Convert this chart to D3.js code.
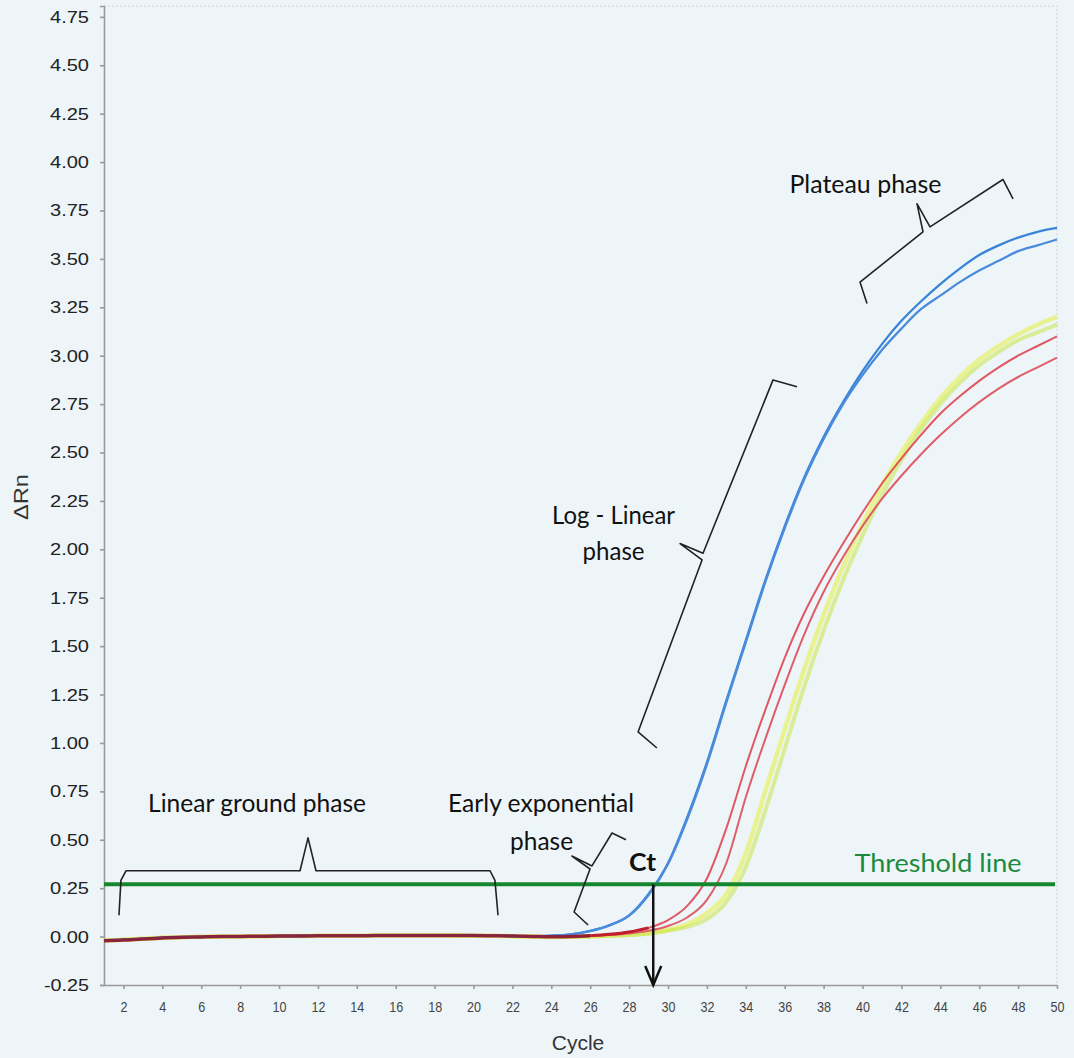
<!DOCTYPE html>
<meta charset="utf-8">
<style>
body { margin: 0; background: #eef5f9; }
svg { display: block; }
.axis text { font-family: "Liberation Sans", Arial, sans-serif; }
.note { font-family: Lato, "Open Sans", sans-serif; fill: #111; }
</style>
<svg width="1074" height="1058"></svg>
<script src="https://d3js.org/d3.v7.min.js"></script>
<script>

var svg = d3.select("svg"),
    width = +svg.attr("width"),
    height = +svg.attr("height");

// amplification data (cycle 1..50)
var cycles = [1,2,3,4,5,6,7,8,9,10,11,12,13,14,15,16,17,18,19,20,21,22,23,24,25,
              26,27,28,29,30,31,32,33,34,35,36,37,38,39,40,41,42,43,44,45,46,47,48,49,50];

var blue1 = [-0.021,-0.017,-0.012,-0.007,-0.004,-0.002,0.000,0.001,0.002,0.003,0.003,0.004,0.004,0.004,0.005,0.005,0.005,0.005,0.005,0.005,0.004,0.003,
             0.002,0.005,0.012,0.03,0.06,0.11,0.22,0.38,0.62,0.90,1.22,1.53,1.84,2.12,2.37,2.58,2.76,2.92,3.06,3.18,3.28,3.37,3.45,3.52,3.57,3.61,3.64,3.66];
var blue2 = [-0.020,-0.016,-0.011,-0.006,-0.003,-0.001,0.000,0.001,0.002,0.003,0.003,0.004,0.004,0.004,0.005,0.005,0.005,0.005,0.005,0.005,0.004,0.003,
             0.002,0.004,0.011,0.028,0.058,0.108,0.215,0.375,0.61,0.89,1.21,1.52,1.83,2.11,2.36,2.57,2.75,2.90,3.03,3.14,3.24,3.31,3.38,3.44,3.49,3.54,3.57,3.60];
var red1  = [-0.022,-0.018,-0.012,-0.007,-0.004,-0.002,0.000,0.001,0.002,0.003,0.003,0.004,0.004,0.004,0.005,0.005,0.005,0.005,0.005,0.005,0.004,0.003,
             0.001,-0.001,0.001,0.005,0.012,0.024,0.045,0.085,0.16,0.30,0.56,0.88,1.17,1.44,1.67,1.86,2.03,2.19,2.34,2.47,2.59,2.70,2.79,2.87,2.94,3.00,3.05,3.10];
var red2  = [-0.020,-0.016,-0.011,-0.006,-0.003,-0.001,0.001,0.002,0.003,0.003,0.004,0.004,0.004,0.005,0.005,0.005,0.005,0.005,0.005,0.004,0.004,0.003,
             0.001,-0.002,0.000,0.003,0.008,0.016,0.03,0.055,0.10,0.19,0.38,0.72,1.02,1.30,1.56,1.78,1.96,2.12,2.26,2.38,2.49,2.59,2.68,2.76,2.83,2.89,2.94,2.99];
var yellow1 = [-0.020,-0.016,-0.011,-0.006,-0.003,-0.001,0.000,0.001,0.002,0.003,0.003,0.004,0.004,0.004,0.005,0.005,0.005,0.005,0.005,0.004,0.004,0.002,
               0.000,-0.002,0.000,0.002,0.005,0.010,0.018,0.035,0.065,0.12,0.22,0.43,0.75,1.07,1.38,1.66,1.91,2.13,2.33,2.50,2.65,2.78,2.89,2.98,3.05,3.11,3.16,3.20];
var yellow2 = [-0.020,-0.016,-0.011,-0.006,-0.003,-0.001,0.000,0.001,0.002,0.003,0.003,0.004,0.004,0.004,0.005,0.005,0.005,0.005,0.005,0.004,0.004,0.002,
               0.000,-0.002,-0.001,0.001,0.004,0.008,0.015,0.03,0.05,0.09,0.18,0.36,0.65,0.97,1.29,1.58,1.84,2.07,2.28,2.46,2.62,2.75,2.86,2.95,3.02,3.08,3.12,3.16];

var xTicks = [2,4,6,8,10,12,14,16,18,20,22,24,26,28,30,32,34,36,38,40,42,44,46,48,50];
var yTicks = [-0.25,0,0.25,0.5,0.75,1,1.25,1.5,1.75,2,2.25,2.5,2.75,3,3.25,3.5,3.75,4,4.25,4.5,4.75];

var threshold = 0.27;
var ctCycle = 29.24;

var series = [
  {name: "yellow1", values: yellow1, color: "#e6ee3a", width: 4.5, opacity: 0.55},
  {name: "yellow2", values: yellow2, color: "#c4e436", width: 4, opacity: 0.5},
  {name: "red1", values: red1, color: "#de4f5c", width: 2, opacity: 0.95},
  {name: "red2", values: red2, color: "#dc5562", width: 2, opacity: 0.95},
  {name: "blue1", values: blue1, color: "#3a84d8", width: 2.3, opacity: 1},
  {name: "blue2", values: blue2, color: "#4a8cdb", width: 2.3, opacity: 1}
];

var x = d3.scaleLinear().domain([1, 50]).range([104, 1057]);
var y = d3.scaleLinear().domain([-0.25, 4.806]).range([985, 6]);

svg.append("rect")
    .attr("width", width)
    .attr("height", height)
    .attr("fill", "#eef5f9");

// faint frame top / right
svg.append("path")
    .attr("d", "M" + x(1) + "," + y(4.806) + "H" + x(50) + "V" + y(-0.25))
    .attr("fill", "none")
    .attr("stroke", "#cdd2d6")
    .attr("stroke-dasharray", "2,2");

var fmt = d3.format(".2f");

var yAxis = svg.append("g")
    .attr("class", "axis")
    .attr("transform", "translate(" + x(1) + ",0)")
    .call(d3.axisLeft(y).tickValues(yTicks).tickSize(4).tickPadding(11)
          .tickFormat(function(d) { return fmt(d).replace("\u2212", "-"); }));

yAxis.selectAll("text")
    .attr("font-size", 17)
    .attr("fill", "#222")
    .attr("textLength", function(d) { return d < 0 ? 45 : 39; })
    .attr("lengthAdjust", "spacingAndGlyphs");

var xAxis = svg.append("g")
    .attr("class", "axis")
    .attr("transform", "translate(0," + y(-0.25) + ")")
    .call(d3.axisBottom(x).tickValues(xTicks).tickSize(4).tickPadding(12)
          .tickSizeOuter(0));

xAxis.selectAll("text")
    .attr("font-size", 15)
    .attr("fill", "#444")
    .attr("textLength", function(d) { return d < 10 ? 7 : 14; })
    .attr("lengthAdjust", "spacingAndGlyphs");

svg.selectAll(".axis path, .axis line")
    .attr("stroke", "#9a9a9a")
    .attr("stroke-width", 1.6);

svg.append("text")
    .attr("x", 578)
    .attr("y", 1050)
    .attr("text-anchor", "middle")
    .attr("font-family", "Liberation Sans, Arial, sans-serif")
    .attr("font-size", 21)
    .attr("fill", "#333")
    .text("Cycle");

svg.append("text")
    .attr("transform", "translate(28,497) rotate(-90)")
    .attr("text-anchor", "middle")
    .attr("font-family", "Liberation Sans, Arial, sans-serif")
    .attr("font-size", 20)
    .attr("fill", "#333")
    .attr("textLength", 46)
    .attr("lengthAdjust", "spacingAndGlyphs")
    .text("\u0394Rn");

var line = d3.line()
    .x(function(d) { return x(d[0]); })
    .y(function(d) { return y(d[1]); })
    .curve(d3.curveMonotoneX);

function pairs(values) {
  return cycles.map(function(c, i) { return [c, values[i]]; });
}

svg.append("g")
    .selectAll("path")
    .data(series)
    .enter().append("path")
    .attr("d", function(d) { return line(pairs(d.values)); })
    .attr("fill", "none")
    .attr("stroke", function(d) { return d.color; })
    .attr("stroke-width", function(d) { return d.width; })
    .attr("stroke-opacity", function(d) { return d.opacity; })
    .attr("stroke-linejoin", "round");

// overlapping baseline shows up dark red
svg.append("path")
    .attr("d", line(pairs(red1).filter(function(d) { return d[0] <= 26; })))
    .attr("fill", "none")
    .attr("stroke", "#8e1a30")
    .attr("stroke-width", 3.5)
    .attr("stroke-opacity", 0.9);

svg.append("path")
    .attr("d", line(pairs(red1).filter(function(d) { return d[0] >= 26 && d[0] <= 29; })))
    .attr("fill", "none")
    .attr("stroke", "#c0202c")
    .attr("stroke-width", 3);

// threshold
svg.append("line")
    .attr("x1", x(1))
    .attr("x2", x(49.9))
    .attr("y1", y(threshold))
    .attr("y2", y(threshold))
    .attr("stroke", "#17872f")
    .attr("stroke-width", 4);

// Ct arrow
svg.append("line")
    .attr("x1", x(ctCycle))
    .attr("x2", x(ctCycle))
    .attr("y1", y(threshold))
    .attr("y2", y(-0.25))
    .attr("stroke", "#111")
    .attr("stroke-width", 2.5);

svg.append("path")
    .attr("d", "M" + (x(ctCycle) - 8) + "," + (y(-0.25) - 19) +
               "L" + x(ctCycle) + "," + y(-0.25) +
               "L" + (x(ctCycle) + 8) + "," + (y(-0.25) - 19))
    .attr("fill", "none")
    .attr("stroke", "#111")
    .attr("stroke-width", 2.5);

// phase braces, in cycle / dRn coordinates
var braces = [
  [[1.77,0.11],[1.87,0.29],[2.13,0.34],[11.08,0.34],[11.49,0.51],[11.9,0.34],[20.85,0.34],[21.1,0.29],[21.26,0.11]],
  [[27.84,0.50],[27.12,0.535],[26.09,0.365],[25.06,0.416],[25.99,0.349],[25.17,0.127],[25.89,0.06]],
  [[36.63,2.84],[35.4,2.875],[31.8,1.98],[30.62,2.03],[31.75,1.945],[28.46,1.057],[29.43,0.974]],
  [[40.23,3.27],[39.87,3.38],[43.11,3.64],[42.8,3.785],[43.47,3.665],[47.22,3.91],[47.74,3.81]]
];

var braceLine = d3.line()
    .x(function(d) { return x(d[0]); })
    .y(function(d) { return y(d[1]); });

svg.append("g")
    .selectAll("path")
    .data(braces)
    .enter().append("path")
    .attr("d", braceLine)
    .attr("fill", "none")
    .attr("stroke", "#222")
    .attr("stroke-width", 1.6)
    .attr("stroke-linejoin", "round");

var notes = [
  {text: "Plateau phase", c: 40.15, v: 3.841, w: 152},
  {text: "Log - Linear", c: 27.2, v: 2.131, w: 123},
  {text: "phase", c: 27.2, v: 1.945, w: 62},
  {text: "Linear ground phase", c: 8.87, v: 0.644, w: 218},
  {text: "Early exponential", c: 23.47, v: 0.644, w: 186},
  {text: "phase", c: 23.5, v: 0.447, w: 63},
  {text: "Ct", c: 28.69, v: 0.339, w: 27, bold: true},
  {text: "Threshold line", c: 43.88, v: 0.334, w: 167, color: "#1b8a3f"}
];

svg.append("g")
    .selectAll("text")
    .data(notes)
    .enter().append("text")
    .attr("class", "note")
    .attr("x", function(d) { return x(d.c); })
    .attr("y", function(d) { return y(d.v); })
    .attr("text-anchor", "middle")
    .attr("font-size", 25)
    .attr("font-weight", function(d) { return d.bold ? "bold" : "normal"; })
    .style("fill", function(d) { return d.color || "#111"; })
    .attr("textLength", function(d) { return d.w; })
    .attr("lengthAdjust", "spacingAndGlyphs")
    .text(function(d) { return d.text; });

</script>
